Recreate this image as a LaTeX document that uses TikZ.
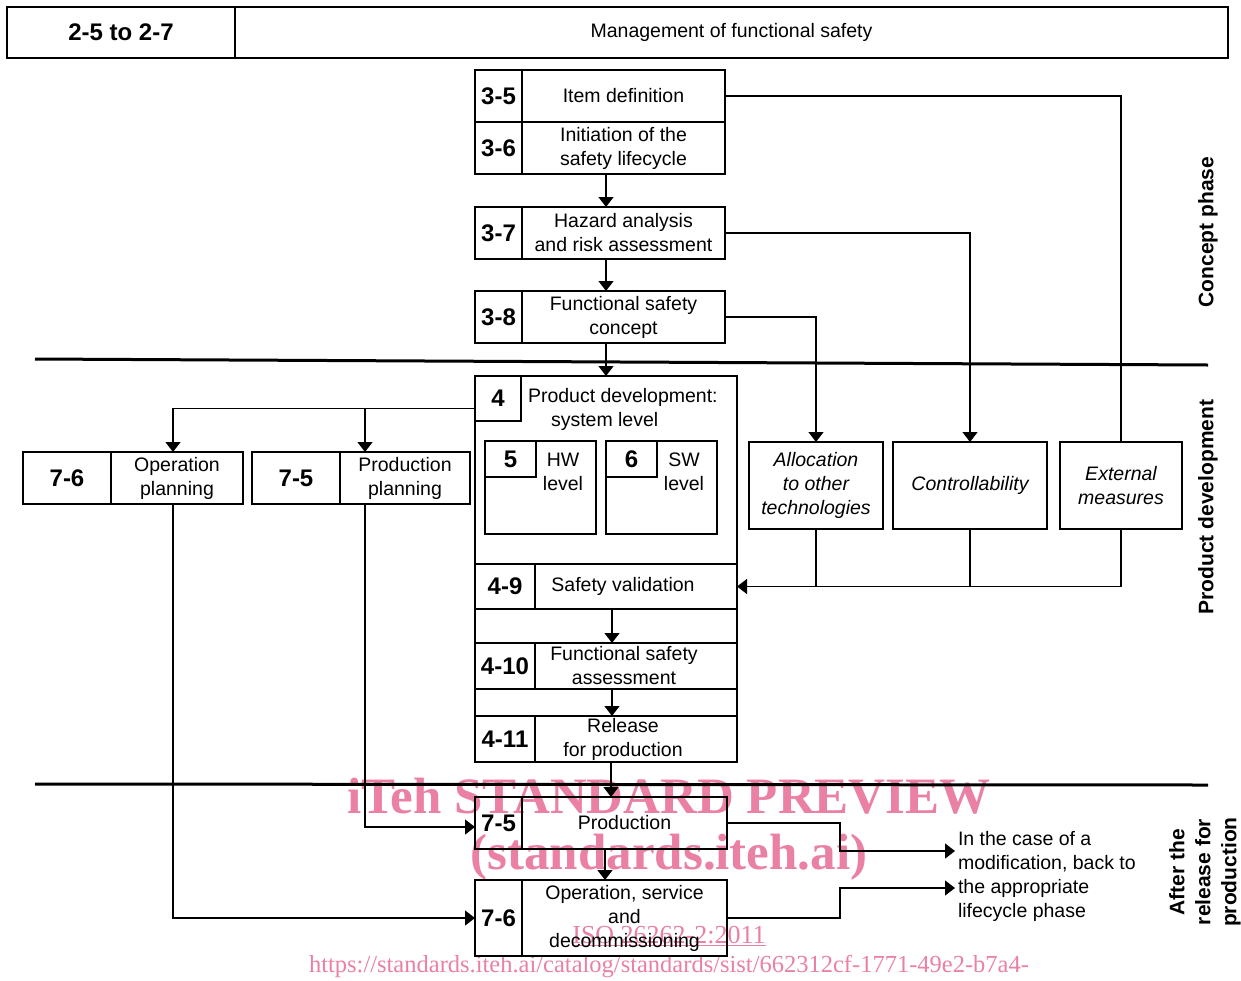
\documentclass[tikz,border=0pt]{standalone}
\usepackage{fontspec}
\setmainfont{Liberation Sans}
\newfontfamily\wmfont{Liberation Serif}
\usepackage{tikz}
\usetikzlibrary{calc,arrows.meta,positioning}
\definecolor{wmpink}{RGB}{234,128,163}

\tikzset{
  cell/.style={draw,line width=1.3pt,anchor=north west,inner sep=0pt,outer sep=0pt,align=center},
  num/.style={cell,font=\fontsize{24}{26}\selectfont\bfseries},
  txt/.style={cell,font=\fontsize{19.5}{24}\selectfont},
  aux/.style={cell,font=\fontsize{19.5}{24}\selectfont\itshape},
  note/.style={inner sep=0pt,outer sep=0pt,font=\fontsize{19.5}{24}\selectfont},
  phase/.style={rotate=90,align=center,inner sep=0pt,font=\fontsize{21}{26}\selectfont\bfseries},
  link/.style={line width=1.3pt},
  flow/.style={link,-{Triangle[length=10pt,width=15pt]}},
  divider/.style={line width=3pt},
  wmark/.style={text=wmpink,inner sep=0pt,anchor=base,font=\wmfont}
}

\begin{document}
\begin{tikzpicture}[x=1pt,y=-1pt]
  \useasboundingbox (0,0) rectangle (1241,980);

  % Watermark
  \node[wmark,font=\wmfont\bfseries\fontsize{51}{51}\selectfont] (wm-1) at (669,813) {iTeh STANDARD PREVIEW};
  \node[wmark,font=\wmfont\bfseries\fontsize{51}{51}\selectfont] (wm-2) at (669,869) {(standards.iteh.ai)};
  \node[wmark,font=\wmfont\fontsize{26}{26}\selectfont] (wm-3) at (669,943) {\underline{ISO 26262-2:2011}};
  \node[wmark,font=\wmfont\fontsize{24.5}{26}\selectfont] (wm-4) at (669,972) {https://standards.iteh.ai/catalog/standards/sist/662312cf-1771-49e2-b7a4-};

  % Header
  \path (7,7)                  node[num,minimum width=228,minimum height=51] (hdr-num) {2-5 to 2-7};
  \path (hdr-num.north east)   node[txt,minimum width=993,minimum height=51] (hdr-txt) {Management of functional safety};

  % Phase dividers
  \draw[divider] (35,359) -- (1208,365);
  \draw[divider] (35,784) -- (1208,785);

  % Concept phase
  \path (475,70)               node[num,minimum width=47,minimum height=52] (c35-num) {3-5};
  \path (c35-num.north east)   node[txt,minimum width=203,minimum height=52] (c35-txt) {Item definition};
  \path (c35-num.south west)   node[num,minimum width=47,minimum height=52] (c36-num) {3-6};
  \path (c36-num.north east)   node[txt,minimum width=203,minimum height=52] (c36-txt) {Initiation of the\\safety lifecycle};
  \path (c36-num.south west) +(0,33) node[num,minimum width=47,minimum height=52] (c37-num) {3-7};
  \path (c37-num.north east)   node[txt,minimum width=203,minimum height=52] (c37-txt) {Hazard analysis\\and risk assessment};
  \path (c37-num.south west) +(0,32) node[num,minimum width=47,minimum height=52] (c38-num) {3-8};
  \path (c38-num.north east)   node[txt,minimum width=203,minimum height=52] (c38-txt) {Functional safety\\concept};

  % Product development
  \path (475,376)              node[cell,minimum width=262,minimum height=386] (pd) {};
  \path (pd.north west)        node[num,minimum width=46,minimum height=45] (pd-num) {4};
  \path (pd-num.north east) +(7,33) node[note,anchor=west,align=left] (pd-txt) {Product development:\\\hspace*{23pt}system level};
  \path (pd.north west) +(10,65) node[cell,minimum width=111,minimum height=93] (hw) {};
  \path (hw.north west)        node[num,minimum width=51,minimum height=36] (hw-num) {5};
  \path (hw-num.north east) +(27,31) node[note,align=center] (hw-txt) {HW\\level};
  \path (hw.north east) +(10,0) node[cell,minimum width=111,minimum height=93] (sw) {};
  \path (sw.north west)        node[num,minimum width=51,minimum height=36] (sw-num) {6};
  \path (sw-num.north east) +(27,31) node[note,align=center] (sw-txt) {SW\\level};

  \path (pd.north west) +(0,188) node[num,minimum width=60,minimum height=45] (p49-num) {4-9};
  \path (p49-num.north east)   node[cell,minimum width=202,minimum height=45] (p49-box) {};
  \path (p49-box.center) +(-13,0) node[note] (p49-txt) {Safety validation};
  \path (p49-num.south west) +(0,34) node[num,minimum width=60,minimum height=46] (p410-num) {4-10};
  \path (p410-num.north east)  node[cell,minimum width=202,minimum height=46] (p410-box) {};
  \path (p410-box.center) +(-12,0) node[note,align=center] (p410-txt) {Functional safety\\assessment};
  \path (p410-num.south west) +(0,27) node[num,minimum width=60,minimum height=46] (p411-num) {4-11};
  \path (p411-num.north east)  node[cell,minimum width=202,minimum height=46] (p411-box) {};
  \path (p411-box.center) +(-13,0) node[note,align=center] (p411-txt) {Release\\for production};

  % Other technologies
  \path (749,442)              node[aux,minimum width=134,minimum height=87] (alloc) {Allocation\\to other\\technologies};
  \path (alloc.north east) +(10,0) node[aux,minimum width=154,minimum height=87] (ctrl) {Controllability};
  \path (ctrl.north east) +(13,0)  node[aux,minimum width=122,minimum height=87] (ext) {External\\measures};

  % Planning
  \path (23,452)               node[num,minimum width=88,minimum height=52] (op-num) {7-6};
  \path (op-num.north east)    node[txt,minimum width=132,minimum height=52] (op-txt) {Operation\\planning};
  \path (op-txt.north east) +(9,0) node[num,minimum width=88,minimum height=52] (pp-num) {7-5};
  \path (pp-num.north east)    node[txt,minimum width=130,minimum height=52] (pp-txt) {Production\\planning};

  % After release
  \path (475,797)              node[num,minimum width=47,minimum height=52] (a75-num) {7-5};
  \path (a75-num.north east)   node[txt,minimum width=205,minimum height=52] (a75-txt) {Production};
  \path (a75-num.south west) +(0,31) node[num,minimum width=47,minimum height=76] (a76-num) {7-6};
  \path (a76-num.north east)   node[txt,minimum width=205,minimum height=76] (a76-txt) {Operation, service\\and\\decommissioning};

  \coordinate (mod-1) at (955,851);
  \coordinate (mod-2) at (955,888);
  \node[note,anchor=west,align=left] (mod-txt) at (958,876) {In the case of a\\modification, back to\\the appropriate\\lifecycle phase};

  % Phase labels
  \node[phase] (ph-concept) at (1208,232) {Concept phase};
  \node[phase] (ph-develop) at (1208,507) {Product development};
  \node[phase] (ph-after)   at (1205,872) {After the\\release for\\production};

  % Connectors
  \draw[flow] ([xshift=84pt]c36-txt.south west) -- ([xshift=84pt]c37-txt.north west);
  \draw[flow] ([xshift=84pt]c37-txt.south west) -- ([xshift=84pt]c38-txt.north west);
  \draw[flow] (pd.north |- c38-txt.south) -- (pd.north);
  \draw[link] (c35-txt.east) -| (ext.north);
  \draw[flow] (c37-txt.east) -| (ctrl.north);
  \draw[flow] (c38-txt.east) -| (alloc.north);
  \draw[flow] (ext.south) |- (p49-box.east);
  \draw[link] (ctrl.south) -- (ctrl.south |- p49-box.east);
  \draw[link] (alloc.south) -- (alloc.south |- p49-box.east);

  \draw[flow] ([xshift=77pt]p49-box.south west) -- ([xshift=77pt]p410-box.north west);
  \draw[flow] ([xshift=77pt]p410-box.south west) -- ([xshift=77pt]p411-box.north west);
  \draw[flow] ([xshift=76pt]p411-box.south west) -- ([xshift=89pt]a75-txt.north west);
  \draw[flow] ([xshift=83pt]a75-txt.south west) -- ([xshift=83pt]a76-txt.north west);

  \path ([yshift=-10pt]pd-num.west) coordinate (pd-out);
  \path ([xshift=-40pt]pp-txt.north) coordinate (pp-in);
  \path ([xshift=-40pt]pp-txt.south) coordinate (pp-out);
  \path ([xshift=-4pt]op-txt.south) coordinate (op-out);
  \draw[flow] (pd-out) -| ([xshift=-4pt]op-txt.north);
  \draw[flow] (pp-in |- pd-out) -- (pp-in);
  \draw[flow] (pp-out) |- ([yshift=-4pt]a75-num.west);
  \draw[flow] (op-out) |- (a76-num.west);

  \draw[flow] (a75-txt.east) -| ([xshift=-115pt]mod-1) -- (mod-1);
  \draw[flow] (a76-txt.east) -| ([xshift=-115pt]mod-2) -- (mod-2);

\end{tikzpicture}
\end{document}
